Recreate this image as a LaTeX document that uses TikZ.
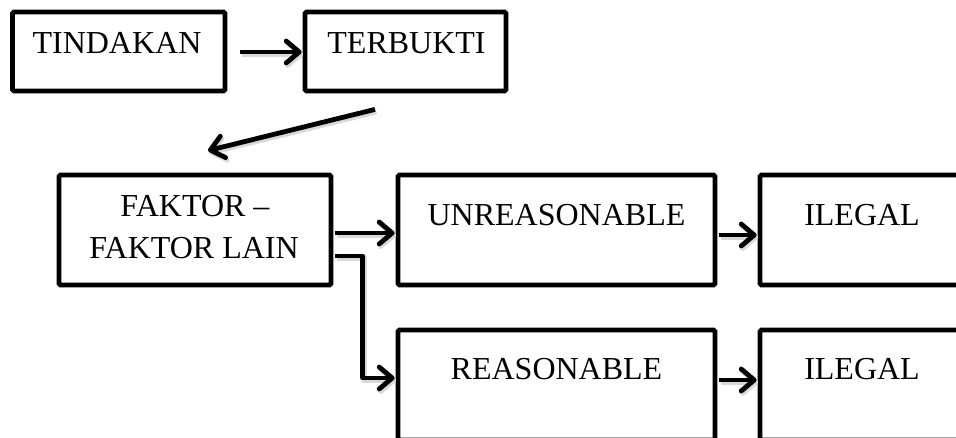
\documentclass[tikz,border=0pt]{standalone}
\usepackage{fontspec}
\setmainfont{Liberation Serif}
\usetikzlibrary{arrows.meta,calc}
\begin{document}
\begin{tikzpicture}[x=1pt,y=-1pt,
  box/.style={draw=black, line width=4.8pt, rounded corners=1.5pt, inner sep=0pt, fill=white},
  txt/.style={inner sep=0pt, anchor=base, font=\fontsize{32}{38}\selectfont},
  conn/.style={line width=4.8pt, line join=round,
    -{Straight Barb[length=13pt, width=22pt, line width=4.8pt, line cap=round, line join=round]},
    preaction={draw=black!15, line width=4.8pt, transform canvas={shift={(1.5pt,-2.5pt)}}}}
]
\useasboundingbox (0,0) rectangle (956,438);
\clip (0,0) rectangle (956,438);
\fill[white] (0,0) rectangle (956,438);

% boxes
\node[box, minimum width=212.5pt, minimum height=79pt] (tind) at (118.75,51.5) {};
\node[box, minimum width=201pt, minimum height=79pt] (terb) at (405.5,51.5) {};
\node[box, minimum width=272pt, minimum height=110pt] (fakt) at (195,230) {};
\node[box, minimum width=317pt, minimum height=110pt] (unre) at (556.5,230) {};
\node[box, minimum width=206pt, minimum height=110pt] (ileg1) at (863,230) {};
\node[box, minimum width=317pt, minimum height=110pt] (reas) at (556.5,385) {};
\node[box, minimum width=206pt, minimum height=110pt] (ileg2) at (863,385) {};

% texts
\node[txt] (tindT) at (117,53.5) {TINDAKAN};
\node[txt] (terbT) at (406.5,53.5) {TERBUKTI};
\node[txt] (faktA) at (195,216.5) {FAKTOR --};
\node[txt] (faktB) at (194,258.5) {FAKTOR LAIN};
\node[txt] (unreT) at (556.5,226) {UNREASONABLE};
\node[txt] (ileg1T) at (862,226) {ILEGAL};
\node[txt] (reasT) at (556.5,379.5) {REASONABLE};
\node[txt] (ileg2T) at (862,379.5) {ILEGAL};

% connectors
\draw[conn] ($(tind.east)+(13,0.5)$) -- ($(terb.west)+(-1,0.5)$);
\draw[conn] ($(terb.south)+(-30.5,16)$) -- ($(fakt.north)+(13,-22)$);
\draw[conn] ($(fakt.east)+(2,3)$) -- ($(unre.west)+(-1,3)$);
\draw[conn] ($(fakt.east)+(2,26)$) -| ($(reas.west)+(-33,-7)$) -- ($(reas.west)+(-1,-7)$);
\draw[conn] ($(unre.east)+(2,5)$) -- ($(ileg1.west)+(-1,5)$);
\draw[conn] ($(reas.east)+(2,-5)$) -- ($(ileg2.west)+(-1,-5)$);
\end{tikzpicture}
\end{document}
